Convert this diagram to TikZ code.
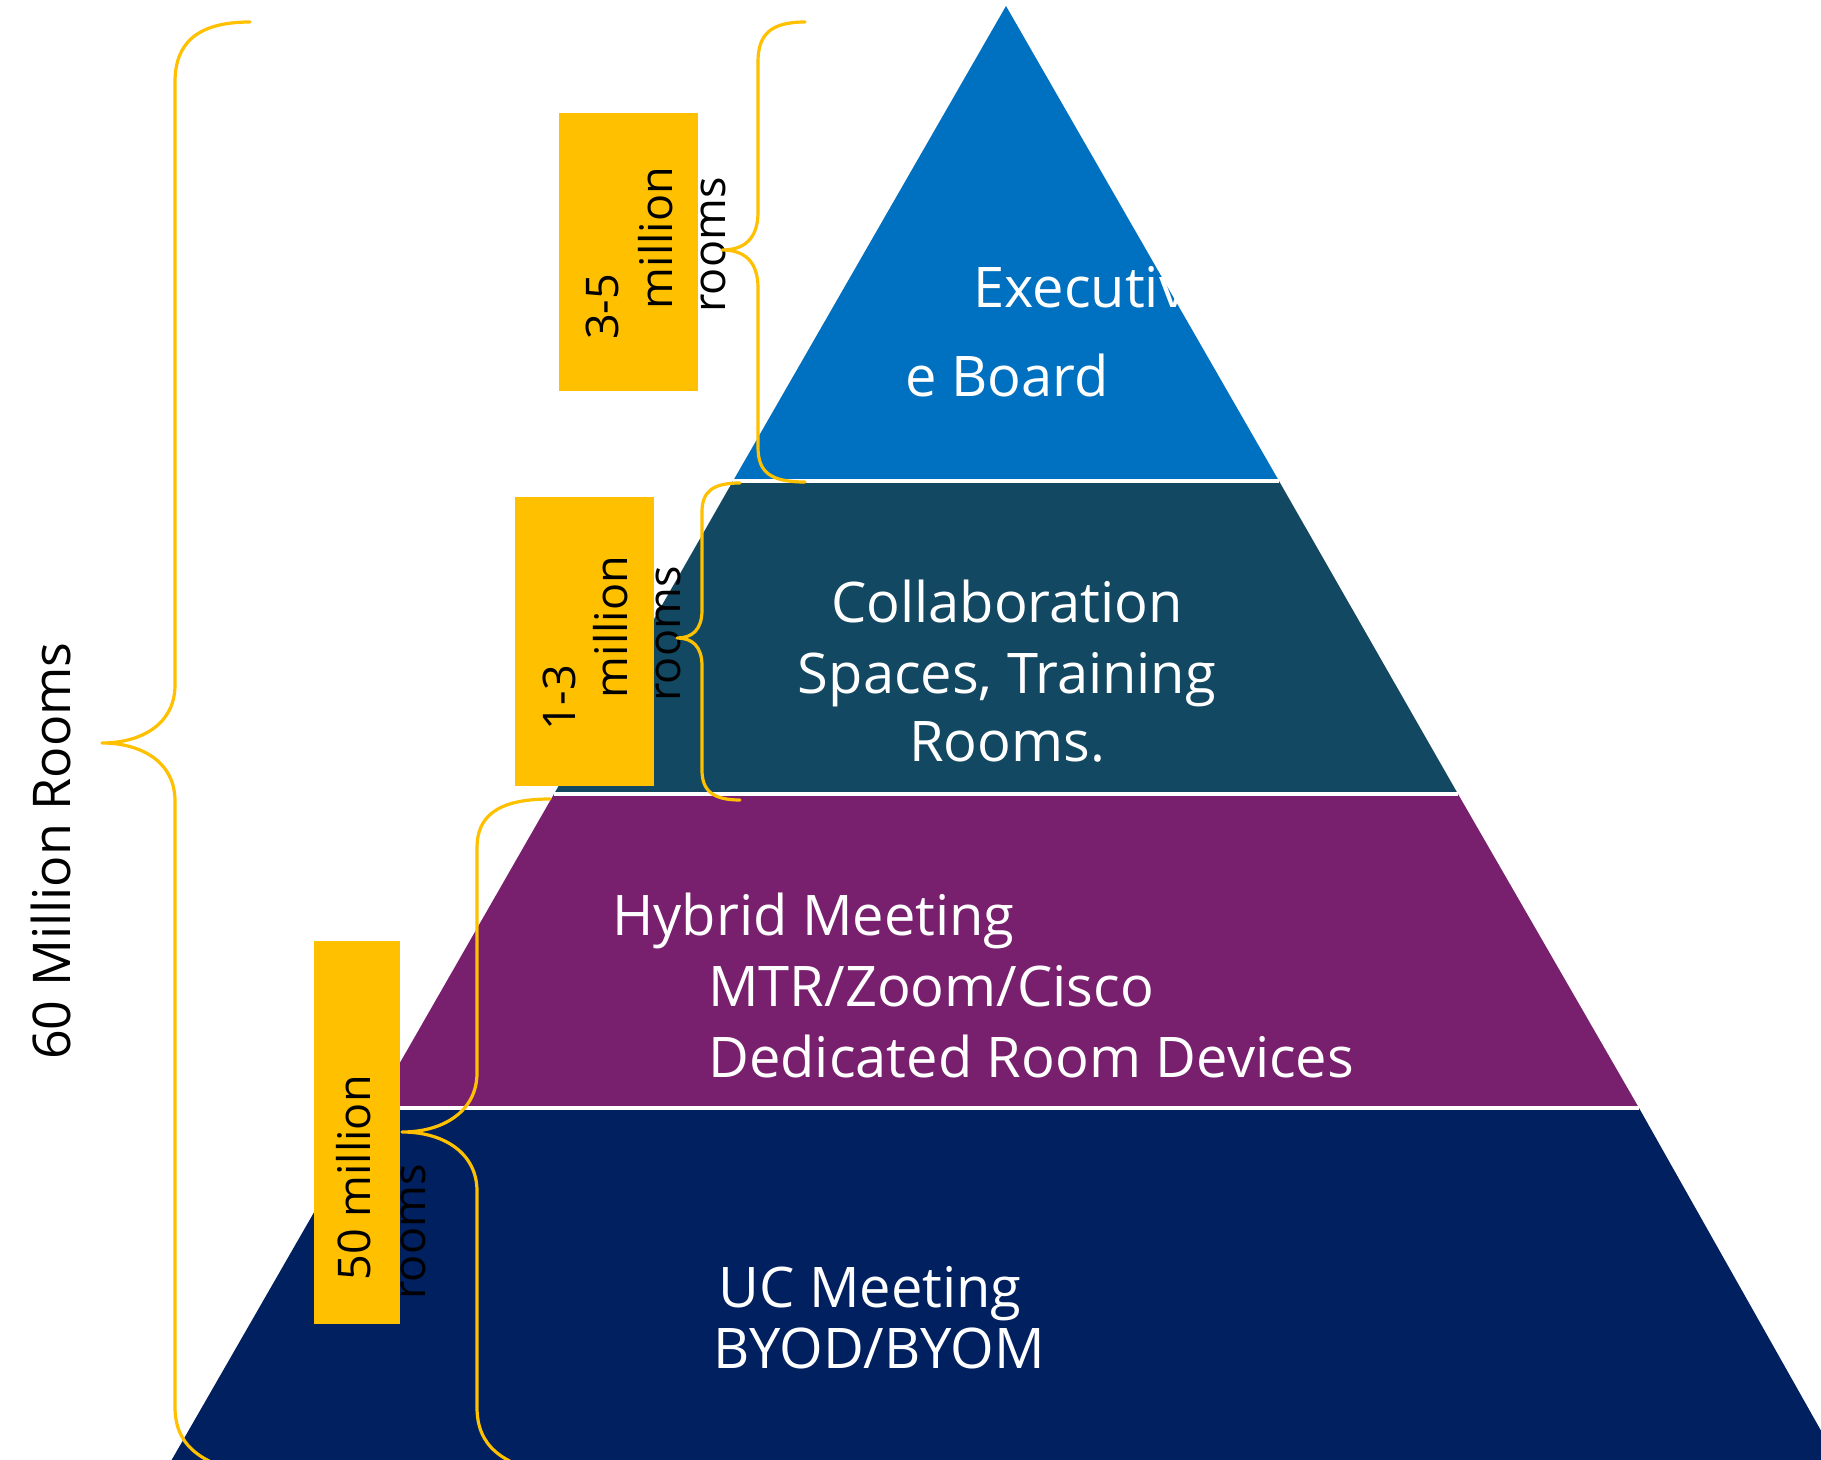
\documentclass[tikz,border=0pt]{standalone}
\usepackage{fontspec}
\setmainfont{Open Sans}
\definecolor{tierone}{HTML}{0070C0}
\definecolor{tiertwo}{HTML}{134863}
\definecolor{tierthree}{HTML}{78206E}
\definecolor{tierfour}{HTML}{002060}
\definecolor{gold}{HTML}{FFC000}
\begin{document}
\begin{tikzpicture}[x=0.5pt,y=-0.5pt,
  bandtext/.style={text=white,font=\fontsize{28}{34}\selectfont,inner sep=0pt},
  boxtext/.style={text=black,font=\fontsize{22.5}{27}\selectfont,inner sep=0pt,rotate=90,anchor=base},
  goldbox/.style={fill=gold,draw=none},
  bracestyle/.style={draw=gold,line width=1.6pt,line cap=round,line join=round},
  sep/.style={draw=white,line width=2pt}]
\useasboundingbox (0,0) rectangle (1821,1460);
\clip (0,0) rectangle (1821,1460);
\fill[white] (0,0) rectangle (1821,1460);
% pyramid bands
\fill[tierone] (1006,6) -- (1279,481) -- (733,481) -- cycle;
\fill[tiertwo] (733,481) -- (1279,481) -- (1458,794) -- (554,794) -- cycle;
\fill[tierthree] (554,794) -- (1458,794) -- (1639,1108) -- (374,1108) -- cycle;
\fill[tierfour] (374,1108) -- (1639,1108) -- (1846,1475) -- (163,1475) -- cycle;
\draw[sep] (733,481) -- (1279,481);
\draw[sep] (554,794) -- (1458,794);
\draw[sep] (374,1108) -- (1639,1108);
% band texts
\node[bandtext,anchor=base west] (exa) at (973,308) {Executiv};
\node[bandtext,anchor=base west] (exb) at (905,397) {e Board};
\node[bandtext,anchor=base] (cola) at (1007,622) {Collaboration};
\node[bandtext,anchor=base] (colb) at (1007,693) {Spaces, Training};
\node[bandtext,anchor=base] (colc) at (1007,761) {Rooms.};
\node[bandtext,anchor=base west] (hya) at (612,935) {Hybrid Meeting};
\node[bandtext,anchor=base west] (hyb) at (708,1006) {MTR/Zoom/Cisco};
\node[bandtext,anchor=base west] (hyc) at (708,1077) {Dedicated Room Devices};
\node[bandtext,anchor=base west] (uca) at (718,1307) {UC Meeting};
\node[bandtext,anchor=base west] (ucb) at (713,1368) {BYOD/BYOM};
% gold boxes
\fill[goldbox] (559,113) rectangle (698,391);
\fill[goldbox] (515,497) rectangle (654,786);
\fill[goldbox] (314,941) rectangle (400,1324);
% box texts
\node[boxtext] (ba) at (618,307) {3-5};
\node[boxtext] (bb) at (672,238) {million};
\node[boxtext] (bc) at (725,245) {rooms};
\node[boxtext] (ca) at (575,698) {1-3};
\node[boxtext] (cb) at (627,627) {million};
\node[boxtext] (cc) at (680,634) {rooms};
\node[boxtext] (da) at (370,1178) {50 million};
\node[boxtext] (db) at (425,1232) {rooms};
% left label
\node[boxtext,font=\fontsize{26}{31}\selectfont] (total) at (70,851) {60 Million Rooms};
% braces
\draw[bracestyle] (805,22) .. controls (770,22) and (758,35) .. (758,62) -- (758,212)
  .. controls (758,238) and (745,250) .. (722,250)
  .. controls (745,250) and (758,262) .. (758,288) -- (758,447)
  .. controls (758,472) and (770,482) .. (805,482);
\draw[bracestyle] (740,483) .. controls (712,483) and (702,492) .. (702,512) -- (702,610)
  .. controls (702,630) and (692,638) .. (677,638)
  .. controls (692,638) and (702,646) .. (702,666) -- (702,770)
  .. controls (702,790) and (712,800) .. (740,800);
\draw[bracestyle] (550,799) .. controls (495,799) and (477,818) .. (477,848) -- (477,1073)
  .. controls (477,1110) and (445,1132) .. (402,1132)
  .. controls (445,1132) and (477,1154) .. (477,1191) -- (477,1407)
  .. controls (477,1445) and (500,1465) .. (555,1475);
\draw[bracestyle] (250,22) .. controls (195,22) and (175,45) .. (175,82) -- (175,685)
  .. controls (175,725) and (140,743) .. (102,743)
  .. controls (140,743) and (175,761) .. (175,801) -- (175,1407)
  .. controls (175,1445) and (200,1465) .. (255,1475);
\end{tikzpicture}
\end{document}
